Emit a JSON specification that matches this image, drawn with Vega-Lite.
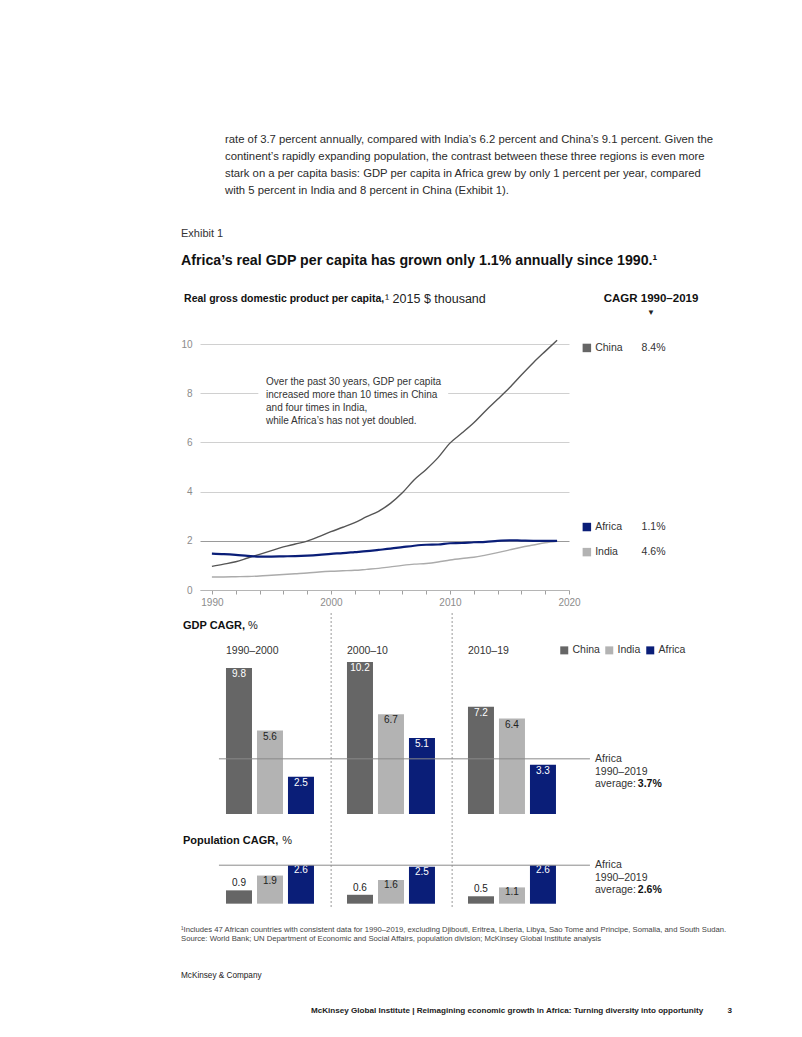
{
  "$schema": "https://vega.github.io/schema/vega-lite/v6.json",
  "background": "white",
  "padding": {"left": 180, "top": 134, "right": 5, "bottom": 5},
  "bounds": "flush",
  "spacing": 23,
  "title": {
    "text": ["rate of 3.7 percent annually, compared with India’s 6.2 percent and China’s 9.1 percent. Given the", "continent’s rapidly expanding population, the contrast between these three regions is even more", "stark on a per capita basis: GDP per capita in Africa grew by only 1 percent per year, compared", "with 5 percent in India and 8 percent in China (Exhibit 1)."],
    "anchor": "start", "frame": "group", "dx": 25, "offset": 31,
    "fontSize": 11.3, "fontWeight": "normal", "color": "#2b2b2b", "lineHeight": 17
  },
  "resolve": {"scale": {"x": "independent", "y": "independent", "color": "independent"}},
  "datasets": {
    "gdppc": [
      {"year":1990,"series":"China","value":0.96},{"year":1991,"series":"China","value":1.05},{"year":1992,"series":"China","value":1.15},{"year":1993,"series":"China","value":1.30},{"year":1994,"series":"China","value":1.45},{"year":1995,"series":"China","value":1.60},{"year":1996,"series":"China","value":1.75},{"year":1997,"series":"China","value":1.87},{"year":1998,"series":"China","value":1.99},{"year":1999,"series":"China","value":2.17},{"year":2000,"series":"China","value":2.37},{"year":2001,"series":"China","value":2.55},{"year":2002,"series":"China","value":2.74},{"year":2003,"series":"China","value":2.98},{"year":2004,"series":"China","value":3.20},{"year":2005,"series":"China","value":3.52},{"year":2006,"series":"China","value":3.95},{"year":2007,"series":"China","value":4.48},{"year":2008,"series":"China","value":4.90},{"year":2009,"series":"China","value":5.38},{"year":2010,"series":"China","value":5.97},{"year":2011,"series":"China","value":6.38},{"year":2012,"series":"China","value":6.80},{"year":2013,"series":"China","value":7.29},{"year":2014,"series":"China","value":7.75},{"year":2015,"series":"China","value":8.22},{"year":2016,"series":"China","value":8.74},{"year":2017,"series":"China","value":9.24},{"year":2018,"series":"China","value":9.70},{"year":2019,"series":"China","value":10.15},
      {"year":1990,"series":"India","value":0.53},{"year":1991,"series":"India","value":0.53},{"year":1992,"series":"India","value":0.54},{"year":1993,"series":"India","value":0.55},{"year":1994,"series":"India","value":0.57},{"year":1995,"series":"India","value":0.60},{"year":1996,"series":"India","value":0.63},{"year":1997,"series":"India","value":0.66},{"year":1998,"series":"India","value":0.69},{"year":1999,"series":"India","value":0.73},{"year":2000,"series":"India","value":0.76},{"year":2001,"series":"India","value":0.78},{"year":2002,"series":"India","value":0.80},{"year":2003,"series":"India","value":0.84},{"year":2004,"series":"India","value":0.88},{"year":2005,"series":"India","value":0.94},{"year":2006,"series":"India","value":1.00},{"year":2007,"series":"India","value":1.05},{"year":2008,"series":"India","value":1.08},{"year":2009,"series":"India","value":1.14},{"year":2010,"series":"India","value":1.22},{"year":2011,"series":"India","value":1.28},{"year":2012,"series":"India","value":1.33},{"year":2013,"series":"India","value":1.42},{"year":2014,"series":"India","value":1.52},{"year":2015,"series":"India","value":1.63},{"year":2016,"series":"India","value":1.74},{"year":2017,"series":"India","value":1.83},{"year":2018,"series":"India","value":1.92},{"year":2019,"series":"India","value":1.98},
      {"year":1990,"series":"Africa","value":1.48},{"year":1991,"series":"Africa","value":1.46},{"year":1992,"series":"Africa","value":1.43},{"year":1993,"series":"Africa","value":1.39},{"year":1994,"series":"Africa","value":1.36},{"year":1995,"series":"Africa","value":1.36},{"year":1996,"series":"Africa","value":1.37},{"year":1997,"series":"Africa","value":1.38},{"year":1998,"series":"Africa","value":1.40},{"year":1999,"series":"Africa","value":1.43},{"year":2000,"series":"Africa","value":1.47},{"year":2001,"series":"Africa","value":1.50},{"year":2002,"series":"Africa","value":1.54},{"year":2003,"series":"Africa","value":1.58},{"year":2004,"series":"Africa","value":1.63},{"year":2005,"series":"Africa","value":1.68},{"year":2006,"series":"Africa","value":1.74},{"year":2007,"series":"Africa","value":1.80},{"year":2008,"series":"Africa","value":1.84},{"year":2009,"series":"Africa","value":1.85},{"year":2010,"series":"Africa","value":1.90},{"year":2011,"series":"Africa","value":1.91},{"year":2012,"series":"Africa","value":1.94},{"year":2013,"series":"Africa","value":1.96},{"year":2014,"series":"Africa","value":2.00},{"year":2015,"series":"Africa","value":2.02},{"year":2016,"series":"Africa","value":2.01},{"year":2017,"series":"Africa","value":2.00},{"year":2018,"series":"Africa","value":2.00},{"year":2019,"series":"Africa","value":2.00}
    ],
    "cagr": [
      {"period":"1990–2000","country":"China","gdp":9.8,"pop":0.9},
      {"period":"1990–2000","country":"India","gdp":5.6,"pop":1.9},
      {"period":"1990–2000","country":"Africa","gdp":2.5,"pop":2.6},
      {"period":"2000–10","country":"China","gdp":10.2,"pop":0.6},
      {"period":"2000–10","country":"India","gdp":6.7,"pop":1.6},
      {"period":"2000–10","country":"Africa","gdp":5.1,"pop":2.5},
      {"period":"2010–19","country":"China","gdp":7.2,"pop":0.5},
      {"period":"2010–19","country":"India","gdp":6.4,"pop":1.1},
      {"period":"2010–19","country":"Africa","gdp":3.3,"pop":2.6}
    ]
  },
  "vconcat": [
    {
      "width": 369, "height": 246,
      "title": {"text": "Exhibit 1", "subtitle": "Africa’s real GDP per capita has grown only 1.1% annually since 1990.¹", "anchor": "start", "frame": "group", "dx": -19, "offset": 25, "fontSize": 11, "fontWeight": "normal", "color": "#333333", "subtitleFontSize": 14.2, "subtitleFontWeight": "bold", "subtitleColor": "#111111", "subtitlePadding": 15},
      "resolve": {"axis": {"x": "independent", "y": "independent"}},
      "layer": [
        {
          "data": {"name": "gdppc"},
          "mark": {"type": "line", "interpolate": "monotone"},
          "encoding": {
            "x": {"field": "year", "type": "quantitative", "scale": {"domain": [1989, 2020], "nice": false, "zero": false}, "axis": {"orient": "bottom", "values": [1990,1992,1994,1996,1998,2000,2002,2004,2006,2008,2010,2012,2014,2016,2018,2020], "labelExpr": "datum.value % 10 === 0 ? datum.label : ''", "format": "d", "title": null, "grid": false, "tickSize": 4, "tickColor": "#a0a0a0", "domainColor": "#b5b5b5", "labelColor": "#8c8c8c", "labelFontSize": 10, "labelPadding": 3, "labelFlush": false, "labelOverlap": false, "labelBound": false}},
            "y": {"field": "value", "type": "quantitative", "scale": {"domain": [0, 10], "nice": false}, "axis": {"orient": "left", "values": [0,2,4,6,8,10], "title": null, "domain": false, "ticks": false, "grid": true, "gridColor": {"condition": {"test": "datum.value === 2", "value": "#9a9a9a"}, "value": "#d0d0d0"}, "labelColor": "#8c8c8c", "labelFontSize": 10, "labelPadding": 8}},
            "color": {"field": "series", "type": "nominal", "scale": {"domain": ["China", "India", "Africa"], "range": ["#555555", "#ababab", "#0a1e78"]}, "legend": null},
            "strokeWidth": {"condition": {"test": "datum.series === 'Africa'", "value": 2.2}, "value": 1.4}
          }
        },
        {"data": {"values": [{}]}, "mark": {"type": "rect", "color": "white"}, "encoding": {"x": {"datum": 1993.9, "axis": null}, "x2": {"datum": 2009.85}, "y": {"datum": 7.75, "axis": null}, "y2": {"datum": 8.25}}},
        {"data": {"values": [{}]}, "mark": {"type": "text", "align": "left", "baseline": "top", "fontSize": 10, "lineHeight": 13, "color": "#333333", "text": ["Over the past 30 years, GDP per capita", "increased more than 10 times in China", "and four times in India,", "while Africa’s has not yet doubled."]}, "encoding": {"x": {"datum": 1994.55, "axis": null}, "y": {"datum": 8.64, "axis": null}}},
        {"data": {"values": [{}]}, "mark": {"type": "text", "align": "left", "baseline": "middle", "fontSize": 10.5, "fontWeight": "bold", "color": "#111111", "text": "Real gross domestic product per capita,"}, "encoding": {"x": {"datum": 1987.66, "axis": null}, "y": {"datum": 11.83, "axis": null}}},
        {"data": {"values": [{}]}, "mark": {"type": "text", "align": "left", "baseline": "middle", "fontSize": 12.5, "color": "#222222", "text": "¹ 2015 $ thousand"}, "encoding": {"x": {"datum": 2004.54, "axis": null}, "y": {"datum": 11.83, "axis": null}}},
        {"data": {"values": [{}]}, "mark": {"type": "text", "align": "center", "baseline": "middle", "fontSize": 11.5, "fontWeight": "bold", "color": "#111111", "text": "CAGR 1990–2019"}, "encoding": {"x": {"datum": 2026.89, "axis": null}, "y": {"datum": 11.83, "axis": null}}},
        {"data": {"values": [{}]}, "mark": {"type": "text", "align": "center", "baseline": "middle", "fontSize": 8, "color": "#222222", "text": "▼"}, "encoding": {"x": {"datum": 2026.89, "axis": null}, "y": {"datum": 11.28, "axis": null}}},
        {
          "data": {"values": [{"series": "China", "cagr": "8.4%"}]},
          "encoding": {"y": {"datum": 9.84, "axis": null}},
          "layer": [
            {"mark": {"type": "point", "shape": "square", "filled": true, "size": 72, "opacity": 1, "color": "#666666"}, "encoding": {"x": {"datum": 2021.5, "axis": null}}},
            {"mark": {"type": "text", "align": "left", "baseline": "middle", "fontSize": 10.5, "color": "#333333"}, "encoding": {"x": {"datum": 2022.2, "axis": null}, "text": {"field": "series"}}},
            {"mark": {"type": "text", "align": "left", "baseline": "middle", "fontSize": 10.5, "color": "#333333"}, "encoding": {"x": {"datum": 2026.1, "axis": null}, "text": {"field": "cagr"}}}
          ]
        },
        {
          "data": {"values": [{"series": "Africa", "cagr": "1.1%"}]},
          "encoding": {"y": {"datum": 2.56, "axis": null}},
          "layer": [
            {"mark": {"type": "point", "shape": "square", "filled": true, "size": 72, "opacity": 1, "color": "#0a1e78"}, "encoding": {"x": {"datum": 2021.5, "axis": null}}},
            {"mark": {"type": "text", "align": "left", "baseline": "middle", "fontSize": 10.5, "color": "#333333"}, "encoding": {"x": {"datum": 2022.2, "axis": null}, "text": {"field": "series"}}},
            {"mark": {"type": "text", "align": "left", "baseline": "middle", "fontSize": 10.5, "color": "#333333"}, "encoding": {"x": {"datum": 2026.1, "axis": null}, "text": {"field": "cagr"}}}
          ]
        },
        {
          "data": {"values": [{"series": "India", "cagr": "4.6%"}]},
          "encoding": {"y": {"datum": 1.54, "axis": null}},
          "layer": [
            {"mark": {"type": "point", "shape": "square", "filled": true, "size": 72, "opacity": 1, "color": "#b3b3b3"}, "encoding": {"x": {"datum": 2021.5, "axis": null}}},
            {"mark": {"type": "text", "align": "left", "baseline": "middle", "fontSize": 10.5, "color": "#333333"}, "encoding": {"x": {"datum": 2022.2, "axis": null}, "text": {"field": "series"}}},
            {"mark": {"type": "text", "align": "left", "baseline": "middle", "fontSize": 10.5, "color": "#333333"}, "encoding": {"x": {"datum": 2026.1, "axis": null}, "text": {"field": "cagr"}}}
          ]
        }
      ]
    },
    {
      "width": 390, "height": 296,
      "title": {"text": ["¹Includes 47 African countries with consistent data for 1990–2019, excluding Djibouti, Eritrea, Liberia, Libya, Sao Tome and Principe, Somalia, and South Sudan.", "Source: World Bank; UN Department of Economic and Social Affairs, population division; McKinsey Global Institute analysis"], "subtitle": "McKinsey & Company", "orient": "bottom", "anchor": "start", "frame": "group", "dx": -19, "offset": 16, "fontSize": 7.7, "fontWeight": "normal", "color": "#444444", "lineHeight": 9, "subtitleFontSize": 8.2, "subtitleColor": "#222222", "subtitlePadding": 30},
      "data": {"name": "cagr"},
      "resolve": {"scale": {"y": "independent"}},
      "layer": [
        {"data": {"values": [{"period": "2000–10"}, {"period": "2010–19"}]}, "mark": {"type": "rule", "color": "#9a9a9a", "strokeDash": [2, 2], "strokeWidth": 1}, "encoding": {"x": {"field": "period", "type": "nominal", "bandPosition": -0.18, "axis": null}}},
        {
          "layer": [
            {
              "mark": {"type": "bar"},
              "encoding": {
                "x": {"field": "period", "type": "nominal", "scale": {"domain": ["1990–2000", "2000–10", "2010–19"], "paddingInner": 0.2727, "paddingOuter": 0.248, "align": 0.433}, "axis": null},
                "xOffset": {"field": "country", "type": "nominal", "scale": {"domain": ["China", "India", "Africa"], "paddingInner": 0.161, "paddingOuter": 0}},
                "y": {"field": "gdp", "type": "quantitative", "scale": {"domain": [-6.38, 13.49], "nice": false, "zero": false}, "axis": null},
                "y2": {"datum": 0},
                "color": {"field": "country", "type": "nominal", "scale": {"domain": ["China", "India", "Africa"], "range": ["#666666", "#b3b3b3", "#0a1e78"]}, "legend": {"orient": "none", "legendX": 359, "legendY": 32, "direction": "horizontal", "title": null, "symbolType": "square", "symbolSize": 64, "symbolStrokeWidth": 0, "symbolOpacity": 1, "labelFontSize": 10.5, "labelColor": "#333333", "labelOffset": 3, "columnPadding": 4, "padding": 0}}
              }
            },
            {
              "mark": {"type": "text", "baseline": "middle", "dy": 6, "fontSize": 10},
              "encoding": {
                "x": {"field": "period", "type": "nominal", "axis": null},
                "xOffset": {"field": "country", "type": "nominal"},
                "y": {"field": "gdp", "type": "quantitative", "scale": {"domain": [-6.38, 13.49], "nice": false, "zero": false}, "axis": null},
                "text": {"field": "gdp", "type": "quantitative", "format": ".1f"},
                "color": {"condition": {"test": "datum.country === 'India'", "value": "#222222"}, "value": "white"}
              }
            },
            {"data": {"values": [{}]}, "mark": {"type": "rule", "color": "#8a8a8a", "strokeWidth": 1}, "encoding": {"x": {"datum": "1990–2000", "type": "nominal", "bandPosition": -0.08, "axis": null}, "x2": {"datum": "2010–19", "bandPosition": 1.386}, "y": {"datum": 3.7, "type": "quantitative", "scale": {"domain": [-6.38, 13.49], "nice": false, "zero": false}, "axis": null}}},
            {"data": {"values": [{}]}, "mark": {"type": "text", "align": "left", "baseline": "top", "fontSize": 10.5, "lineHeight": 12.5, "color": "#333333", "text": ["Africa", "1990–2019", "average:"]}, "encoding": {"x": {"datum": "2010–19", "type": "nominal", "bandPosition": 1.443, "axis": null}, "y": {"datum": 4.0, "type": "quantitative", "axis": null}}},
            {"data": {"values": [{}]}, "mark": {"type": "text", "align": "left", "baseline": "top", "fontSize": 10.5, "fontWeight": "bold", "color": "#111111", "text": "3.7%"}, "encoding": {"x": {"datum": "2010–19", "type": "nominal", "bandPosition": 1.93, "axis": null}, "y": {"datum": 2.33, "type": "quantitative", "axis": null}}},
            {"data": {"values": [{}]}, "mark": {"type": "text", "align": "left", "baseline": "middle", "fontSize": 11, "fontWeight": "bold", "color": "#111111", "text": "GDP CAGR,"}, "encoding": {"x": {"datum": "1990–2000", "type": "nominal", "bandPosition": -0.489, "axis": null}, "y": {"datum": 12.62, "type": "quantitative", "axis": null}}},
            {"data": {"values": [{}]}, "mark": {"type": "text", "align": "left", "baseline": "middle", "fontSize": 11, "color": "#222222", "text": "%"}, "encoding": {"x": {"datum": "1990–2000", "type": "nominal", "bandPosition": 0.25, "axis": null}, "y": {"datum": 12.62, "type": "quantitative", "axis": null}}},
            {"data": {"values": [{"period": "1990–2000"}, {"period": "2000–10"}, {"period": "2010–19"}]}, "mark": {"type": "text", "align": "left", "baseline": "middle", "fontSize": 10.5, "color": "#333333"}, "encoding": {"x": {"field": "period", "type": "nominal", "bandPosition": 0, "axis": null}, "y": {"datum": 10.94, "type": "quantitative", "axis": null}, "text": {"field": "period"}}}
          ]
        },
        {
          "layer": [
            {
              "mark": {"type": "bar"},
              "encoding": {
                "x": {"field": "period", "type": "nominal", "axis": null},
                "xOffset": {"field": "country", "type": "nominal"},
                "y": {"field": "pop", "type": "quantitative", "scale": {"domain": [-0.36, 19.64], "nice": false, "zero": false}, "axis": null},
                "y2": {"datum": 0},
                "color": {"field": "country", "type": "nominal"}
              }
            },
            {
              "transform": [{"filter": "datum.pop >= 1"}],
              "mark": {"type": "text", "baseline": "middle", "dy": 5, "fontSize": 10},
              "encoding": {
                "x": {"field": "period", "type": "nominal", "axis": null},
                "xOffset": {"field": "country", "type": "nominal"},
                "y": {"field": "pop", "type": "quantitative", "scale": {"domain": [-0.36, 19.64], "nice": false, "zero": false}, "axis": null},
                "text": {"field": "pop", "type": "quantitative", "format": ".1f"},
                "color": {"condition": {"test": "datum.country === 'India'", "value": "#222222"}, "value": "white"}
              }
            },
            {
              "transform": [{"filter": "datum.pop < 1"}],
              "mark": {"type": "text", "baseline": "middle", "dy": -7, "fontSize": 10, "color": "#222222"},
              "encoding": {
                "x": {"field": "period", "type": "nominal", "axis": null},
                "xOffset": {"field": "country", "type": "nominal"},
                "y": {"field": "pop", "type": "quantitative", "scale": {"domain": [-0.36, 19.64], "nice": false, "zero": false}, "axis": null},
                "text": {"field": "pop", "type": "quantitative", "format": ".1f"}
              }
            },
            {"data": {"values": [{}]}, "mark": {"type": "rule", "color": "#8a8a8a", "strokeWidth": 1}, "encoding": {"x": {"datum": "1990–2000", "type": "nominal", "bandPosition": -0.08, "axis": null}, "x2": {"datum": "2010–19", "bandPosition": 1.386}, "y": {"datum": 2.6, "type": "quantitative", "axis": null}}},
            {"data": {"values": [{}]}, "mark": {"type": "text", "align": "left", "baseline": "top", "fontSize": 10.5, "lineHeight": 12.5, "color": "#333333", "text": ["Africa", "1990–2019", "average:"]}, "encoding": {"x": {"datum": "2010–19", "type": "nominal", "bandPosition": 1.443, "axis": null}, "y": {"datum": 2.94, "type": "quantitative", "axis": null}}},
            {"data": {"values": [{}]}, "mark": {"type": "text", "align": "left", "baseline": "top", "fontSize": 10.5, "fontWeight": "bold", "color": "#111111", "text": "2.6%"}, "encoding": {"x": {"datum": "2010–19", "type": "nominal", "bandPosition": 1.93, "axis": null}, "y": {"datum": 1.25, "type": "quantitative", "axis": null}}},
            {"data": {"values": [{}]}, "mark": {"type": "text", "align": "left", "baseline": "middle", "fontSize": 11, "fontWeight": "bold", "color": "#111111", "text": "Population CAGR,"}, "encoding": {"x": {"datum": "1990–2000", "type": "nominal", "bandPosition": -0.489, "axis": null}, "y": {"datum": 4.25, "type": "quantitative", "axis": null}}},
            {"data": {"values": [{}]}, "mark": {"type": "text", "align": "left", "baseline": "middle", "fontSize": 11, "color": "#222222", "text": "%"}, "encoding": {"x": {"datum": "1990–2000", "type": "nominal", "bandPosition": 0.64, "axis": null}, "y": {"datum": 4.25, "type": "quantitative", "axis": null}}}
          ]
        }
      ]
    },
    {
      "width": 390, "height": 1,
      "data": {"values": [{}]},
      "mark": {"type": "text", "text": ""},
      "title": {"text": "McKinsey Global Institute | Reimagining economic growth in Africa: Turning diversity into opportunity\u2003\u2003\u20033", "orient": "bottom", "anchor": "start", "frame": "group", "dx": 111, "offset": 69, "fontSize": 8.1, "fontWeight": "bold", "color": "#222222"}
    }
  ],
  "config": {
    "font": "Liberation Sans",
    "view": {"stroke": null},
    "title": {"font": "Liberation Sans", "subtitleFont": "Liberation Sans"},
    "axis": {"labelFont": "Liberation Sans"},
    "axisX": {"labelOverlap": false},
    "legend": {"labelFont": "Liberation Sans"},
    "text": {"font": "Liberation Sans"}
  }
}
